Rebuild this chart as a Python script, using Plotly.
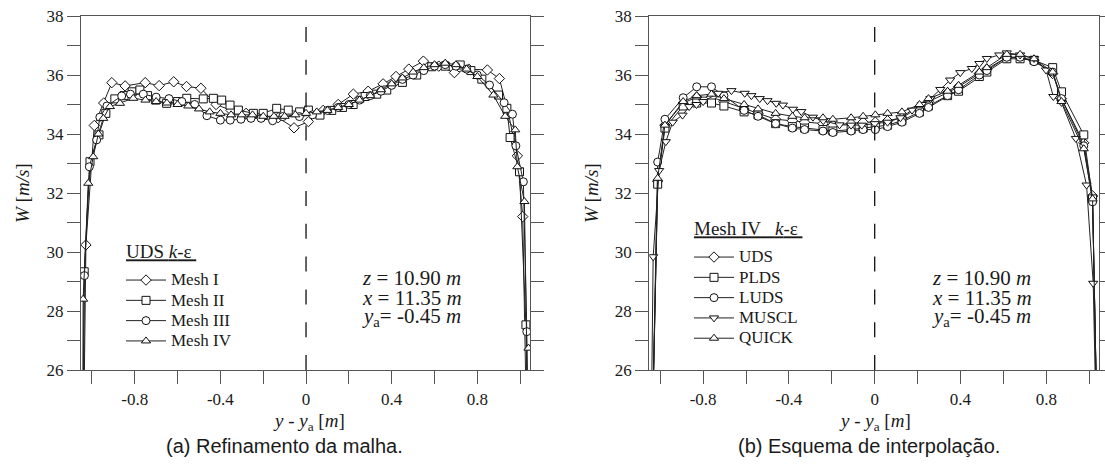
import plotly.graph_objects as go

# ---------------- data : (a) mesh refinement, UDS k-eps ----------------
mesh1_x = [-1.045, -1.028, -0.989, -0.945, -0.907, -0.845, -0.751, -0.686, -0.618, -0.558, -0.491,
           -0.42, -0.35, -0.28, -0.2, -0.13, -0.056, 0.011, 0.08, 0.15, 0.221, 0.29, 0.36, 0.42,
           0.48, 0.548, 0.62, 0.693, 0.76, 0.847, 0.903, 0.945, 0.987, 1.012, 1.04]
mesh1_y = [20, 30.24, 34.29, 35.05, 35.74, 35.63, 35.74, 35.64, 35.77, 35.61, 35.55,
           35.0, 34.8, 34.7, 34.6, 34.55, 34.21, 34.42, 34.8, 35.0, 35.35, 35.45, 35.7, 35.95,
           36.2, 36.47, 36.3, 36.08, 36.2, 36.17, 35.88, 34.7, 33.26, 31.2, 20]

mesh2_x = [-1.045, -1.036, -1.009, -0.967, -0.935, -0.893, -0.85, -0.812, -0.776, -0.74, -0.702,
           -0.651, -0.60, -0.557, -0.48, -0.433, -0.394, -0.355, -0.316, -0.246, -0.2, -0.137,
           -0.083, -0.03, 0.011, 0.065, 0.12, 0.17, 0.22, 0.276, 0.33, 0.377, 0.45, 0.517, 0.587,
           0.65, 0.72, 0.77, 0.821, 0.899, 0.938, 0.953, 0.997, 1.027, 1.045]
mesh2_y = [20, 29.33, 33.06, 33.97, 34.7, 35.19, 35.3, 35.43, 35.49, 35.3, 35.15,
           35.04, 35.1, 35.21, 35.19, 35.21, 35.15, 34.98, 34.81, 34.7, 34.7, 34.87,
           34.81, 34.75, 34.81, 34.64, 34.8, 34.9, 35.0, 35.27, 35.35, 35.49, 35.75, 36.0, 36.28,
           36.3, 36.34, 36.15, 35.86, 35.32, 34.87, 33.88, 32.72, 27.53, 20]

mesh3_x = [-1.045, -1.035, -1.012, -0.978, -0.963, -0.93, -0.861, -0.82, -0.76, -0.70, -0.64,
           -0.58, -0.52, -0.463, -0.40, -0.354, -0.304, -0.257, -0.21, -0.156, -0.109, -0.031,
           0.03, 0.1, 0.15, 0.2, 0.25, 0.3, 0.35, 0.4, 0.45, 0.5, 0.55, 0.6, 0.65, 0.7, 0.75,
           0.8, 0.857, 0.925, 0.964, 0.98, 1.015, 1.031, 1.045]
mesh3_y = [20, 29.2, 32.89, 33.8, 34.57, 34.95, 35.29, 35.35, 35.35, 35.25, 35.2,
           35.1, 35.0, 34.62, 34.47, 34.47, 34.5, 34.53, 34.53, 34.45, 34.59, 34.59,
           34.65, 34.8, 34.9, 35.0, 35.15, 35.3, 35.45, 35.65, 35.85, 36.0, 36.15, 36.3, 36.35, 36.3, 36.2,
           36.0, 35.66, 35.06, 34.67, 33.6, 32.38, 27.3, 20]

mesh4_x = [-1.045, -1.041, -1.017, -0.994, -0.97, -0.947, -0.916, -0.869, -0.807, -0.75, -0.70,
           -0.65, -0.60, -0.55, -0.50, -0.45, -0.40, -0.35, -0.30, -0.25, -0.20, -0.15, -0.10,
           -0.05, 0.0, 0.05, 0.10, 0.15, 0.20, 0.25, 0.30, 0.35, 0.40, 0.45, 0.50, 0.55, 0.60,
           0.65, 0.70, 0.75, 0.80, 0.875, 0.93, 0.977, 0.987, 1.02, 1.039, 1.045]
mesh4_y = [20, 28.40, 32.33, 33.23, 34.0, 34.53, 34.93, 35.04, 35.21, 35.15, 35.1,
           35.05, 35.0, 34.95, 34.85, 34.75, 34.7, 34.65, 34.65, 34.65, 34.6, 34.6, 34.6,
           34.65, 34.7, 34.75, 34.8, 34.9, 35.0, 35.15, 35.3, 35.5, 35.7, 35.9, 36.1, 36.25, 36.35,
           36.4, 36.35, 36.2, 35.95, 35.32, 34.6, 34.14, 32.89, 31.71, 26.74, 20]

# ---------------- data : (b) interpolation schemes, Mesh IV k-eps ----------------
scheme_x = [-1.048, -1.012, -0.978, -0.893, -0.830, -0.761, -0.703, -0.609, -0.544, -0.462, -0.384,
            -0.327, -0.241, -0.195, -0.110, -0.054, 0.003, 0.060, 0.127, 0.209, 0.251, 0.340,
            0.391, 0.488, 0.523, 0.616, 0.678, 0.743, 0.830, 0.871, 0.975, 1.016, 1.048]
uds_y = [20, 32.4, 34.3, 35.05, 35.25, 35.25, 35.1, 34.85, 34.7, 34.5, 34.45,
         34.4, 34.35, 34.3, 34.35, 34.4, 34.4, 34.45, 34.55, 34.9, 35.1, 35.4,
         35.6, 36.05, 36.2, 36.6, 36.6, 36.5, 36.05, 35.2, 33.7, 31.9, 20]
plds_y = [20, 32.3, 34.2, 34.95, 35.05, 35.05, 34.95, 34.75, 34.65, 34.35, 34.25,
          34.2, 34.15, 34.1, 34.15, 34.2, 34.25, 34.3, 34.45, 34.75, 34.95, 35.3,
          35.45, 35.95, 36.1, 36.55, 36.55, 36.5, 36.25, 35.43, 33.97, 31.8, 20]
luds_y = [20, 33.05, 34.5, 35.23, 35.6, 35.6, 35.3, 34.8, 34.6, 34.35, 34.2,
          34.15, 34.1, 34.05, 34.1, 34.15, 34.15, 34.25, 34.4, 34.7, 34.9, 35.3,
          35.5, 36.0, 36.15, 36.6, 36.6, 36.45, 36.1, 35.2, 33.6, 31.7, 20]
quick_y = [20, 32.5, 34.3, 35.1, 35.3, 35.35, 35.2, 35.0, 34.85, 34.7, 34.6,
           34.55, 34.55, 34.5, 34.55, 34.6, 34.65, 34.7, 34.75, 35.0, 35.2, 35.45,
           35.65, 36.1, 36.25, 36.7, 36.7, 36.55, 36.1, 35.1, 33.5, 31.8, 20]
muscl_x = [-1.048, -1.033, -1.005, -0.974, -0.942, -0.896, -0.865, -0.831, -0.80, -0.73, -0.668,
           -0.606, -0.575, -0.536, -0.50, -0.459, -0.428, -0.381, -0.342, -0.288, -0.24, -0.164,
           -0.11, -0.06, 0.0, 0.06, 0.12, 0.174, 0.22, 0.26, 0.306, 0.352, 0.399, 0.453, 0.488,
           0.523, 0.581, 0.616, 0.678, 0.743, 0.799, 0.833, 0.871, 0.938, 0.988, 1.019, 1.045]
muscl_y = [20, 29.84, 32.76, 33.74, 34.4, 34.64, 34.93, 35.0, 35.1, 35.38, 35.47,
           35.38, 35.3, 35.2, 35.13, 35.04, 34.98, 34.84, 34.76, 34.57, 34.45, 34.31,
           34.3, 34.3, 34.35, 34.4, 34.55, 34.81, 35.0, 35.2, 35.51, 35.83, 36.08, 36.22, 36.39,
           36.56, 36.68, 36.75, 36.68, 36.56, 36.17, 35.27, 35.07, 33.85, 32.27, 28.94, 20]

# ---------------- ticks / legend titles ----------------
x_ticks = [-1.0, -0.8, -0.6, -0.4, -0.2, 0.0, 0.2, 0.4, 0.6, 0.8, 1.0]
x_tick_labels = ["", "-0.8", "", "-0.4", "", "0", "", "0.4", "", "0.8", ""]
y_ticks = [26, 27, 28, 29, 30, 31, 32, 33, 34, 35, 36, 37, 38]
y_tick_labels = ["26", "", "28", "", "30", "", "32", "", "34", "", "36", "", "38"]
left_title = "UDS <i>k</i>-ε "
right_title = "Mesh IV   <i>k</i>-ε "

left_series = [("Mesh I", mesh1_x, mesh1_y, "diamond", 8),
               ("Mesh II", mesh2_x, mesh2_y, "square", 8),
               ("Mesh III", mesh3_x, mesh3_y, "circle", 8),
               ("Mesh IV", mesh4_x, mesh4_y, "triangle-up", 8)]
right_series = [("UDS", scheme_x, uds_y, "diamond", 8),
                ("PLDS", scheme_x, plds_y, "square", 8),
                ("LUDS", scheme_x, luds_y, "circle", 8),
                ("MUSCL", muscl_x, muscl_y, "triangle-down", 8),
                ("QUICK", scheme_x, quick_y, "triangle-up", 8)]

W, H = 1105, 468
SERIF = "Liberation Serif"
SANS = "Liberation Sans"
AX = "#555555"
TXT = "#1a1a1a"

fig = go.Figure()
for group, legend_id, xa, ya, gtitle in ((left_series, "legend", "x", "y", left_title),
                                         (right_series, "legend2", "x2", "y2", right_title)):
    for name, xs, ys, sym, sz in group:
        fig.add_trace(go.Scatter(x=xs, y=ys, mode="lines+markers",
                                 name='<span style="font-size:17px">' + name + '</span>',
                                 line=dict(color="#222", width=1),
                                 marker=dict(symbol=sym, size=sz, color="white",
                                             line=dict(color="#111", width=1)),
                                 legendgroup=legend_id,
                                 legendgrouptitle=dict(
                                     text='<span style="font-size:19px"><u>' + gtitle + '</u></span>',
                                     font=dict(family=SERIF, size=38.7, color=TXT)),
                                 xaxis=xa, yaxis=ya, legend=legend_id))

ydom = [98 / H, 452 / H]
xdomL = [81 / W, 530 / W]
xdomR = [649.3 / W, 1099 / W]


def xaxis(dom, anchor):
    return dict(domain=dom, anchor=anchor, range=[-1.051, 1.046], tickmode="array",
                tickvals=x_ticks, ticktext=x_tick_labels, ticks="outside", ticklen=13,
                tickwidth=1.3, tickcolor=AX, showline=True, linecolor=AX, linewidth=1.3,
                mirror=True, showgrid=False, zeroline=False, automargin=False,
                tickfont=dict(family=SERIF, size=17, color=TXT))


def yaxis(anchor):
    return dict(domain=ydom, anchor=anchor, range=[26, 38], tickmode="array",
                tickvals=y_ticks, ticktext=y_tick_labels, ticks="outside", ticklen=13,
                tickwidth=1.3, tickcolor=AX, showline=True, linecolor=AX, linewidth=1.3,
                mirror="ticks", showgrid=False, zeroline=False, automargin=False,
                tickfont=dict(family=SERIF, size=17, color=TXT))


legend_common = dict(xanchor="left", yanchor="top", bgcolor="rgba(0,0,0,0)",
                     borderwidth=0, itemwidth=40, tracegroupgap=0,
                     font=dict(family=SERIF, size=13.3, color=TXT))

fig.update_layout(
    width=W, height=H, autosize=False,
    margin=dict(l=0, r=0, t=0, b=0, pad=0),
    paper_bgcolor="white", plot_bgcolor="white",
    showlegend=True,
    xaxis=xaxis(xdomL, "y"), yaxis=yaxis("x"),
    xaxis2=xaxis(xdomR, "y2"), yaxis2=yaxis("x2"),
    legend=dict(x=121 / W, y=1 - 211.6 / H, **legend_common),
    legend2=dict(x=689 / W, y=1 - 188.6 / H, **legend_common),
)

# dashed centre lines
for xr, yr in (("x", "y"), ("x2", "y2")):
    fig.add_shape(type="line", xref=xr, yref=yr, x0=0, x1=0, y0=26, y1=38,
                  line=dict(color="#111", width=1.3, dash="15px,17.8px"))

ann = []
for xc in (360, 930):
    for i, t in enumerate(["<i>z</i> = 10.90 <i>m</i>", "<i>x</i> = 11.35 <i>m</i>",
                           "<i>y</i><sub>a</sub>= -0.45 <i>m</i>"]):
        ann.append(dict(x=xc / W, y=1 - (278 + 19.5 * i) / H, xref="paper", yref="paper",
                        text=t, showarrow=False, xanchor="left", yanchor="middle",
                        font=dict(family=SERIF, size=21, color=TXT)))

for cx in (309, 875):
    ann.append(dict(x=cx / W, y=1 - 422 / H, xref="paper", yref="paper",
                    text="<i>y</i> - <i>y</i><sub>a</sub> [<i>m</i>]", showarrow=False,
                    xanchor="center", yanchor="middle",
                    font=dict(family=SERIF, size=19, color=TXT)))
for cx in (22, 591):
    ann.append(dict(x=cx / W, y=1 - 193 / H, xref="paper", yref="paper",
                    text="<i>W</i> [<i>m/s</i>]", showarrow=False, textangle=-90,
                    xanchor="center", yanchor="middle",
                    font=dict(family=SERIF, size=19, color=TXT)))
ann.append(dict(x=284 / W, y=1 - 446 / H, xref="paper", yref="paper",
                text="(a) Refinamento da malha.", showarrow=False, xanchor="center", yanchor="middle",
                font=dict(family=SANS, size=20, color=TXT)))
ann.append(dict(x=869 / W, y=1 - 446 / H, xref="paper", yref="paper",
                text="(b) Esquema de interpolação.", showarrow=False, xanchor="center", yanchor="middle",
                font=dict(family=SANS, size=20, color=TXT)))
fig.update_layout(annotations=ann)

fig.write_html("out.html")
